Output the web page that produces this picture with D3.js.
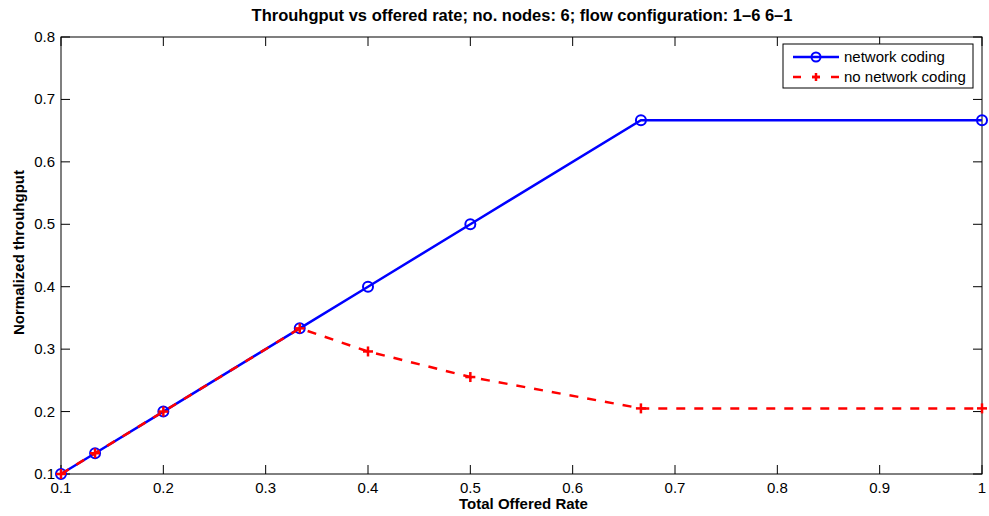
<!DOCTYPE html>
<html><head><meta charset="utf-8">
<script src="https://cdn.jsdelivr.net/npm/d3@7"></script>
<style>body{margin:0;background:#fff;} text{font-family:"Liberation Sans",Arial,sans-serif;}</style>
</head><body>
<svg id="c" width="989" height="516"></svg>
<script>
const offeredRate = [0.1, 0.1333, 0.2, 0.3333, 0.4, 0.5, 0.6667, 1.0];
const withCoding = [0.1, 0.1333, 0.2, 0.3333, 0.4, 0.5, 0.6667, 0.6667];
const withoutCoding = [0.1, 0.1333, 0.2, 0.3333, 0.2963, 0.2553, 0.2051, 0.2051];
const xTicks = [0.1, 0.2, 0.3, 0.4, 0.5, 0.6, 0.7, 0.8, 0.9, 1];
const yTicks = [0.1, 0.2, 0.3, 0.4, 0.5, 0.6, 0.7, 0.8];
const seriesNames = ["network coding", "no network coding"];

const svg = d3.select("#c");
const L = 61, R = 982, T = 37, B = 474;
const x = d3.scaleLinear().domain([0.1, 1]).range([L, R]);
const y = d3.scaleLinear().domain([0.1, 0.8]).range([B, T]);
const fmt = d => (d === 1 ? "1" : d3.format(".1f")(d));

svg.append("rect").attr("x", L).attr("y", T).attr("width", R - L).attr("height", B - T)
  .attr("fill", "#fff").attr("stroke", "#000").attr("stroke-width", 1);

const tl = 9;
const ax = svg.append("g").attr("stroke", "#000").attr("stroke-width", 1);
xTicks.forEach(t => {
  ax.append("line").attr("x1", x(t)).attr("x2", x(t)).attr("y1", B).attr("y2", B - tl);
  ax.append("line").attr("x1", x(t)).attr("x2", x(t)).attr("y1", T).attr("y2", T + tl);
});
yTicks.forEach(t => {
  ax.append("line").attr("x1", L).attr("x2", L + tl).attr("y1", y(t)).attr("y2", y(t));
  ax.append("line").attr("x1", R).attr("x2", R - tl).attr("y1", y(t)).attr("y2", y(t));
});
svg.append("g").selectAll("text").data(xTicks).join("text")
  .attr("x", d => x(d)).attr("y", B + 19).attr("text-anchor", "middle")
  .attr("font-size", 15).text(fmt);
svg.append("g").selectAll("text").data(yTicks).join("text")
  .attr("x", L - 6).attr("y", d => y(d) + 5).attr("text-anchor", "end")
  .attr("font-size", 15).text(fmt);

svg.append("text").attr("x", 522).attr("y", 21).attr("text-anchor", "middle")
  .attr("font-size", 16.5).attr("font-weight", "bold")
  .text("Throuhgput vs offered rate; no. nodes: 6; flow configuration: 1\u20136 6\u20131");
svg.append("text").attr("x", (L + R) / 2 + 2).attr("y", 509).attr("text-anchor", "middle")
  .attr("font-size", 15).attr("font-weight", "bold").text("Total Offered Rate");
svg.append("text").attr("transform", `translate(24,${(T + B) / 2 - 3}) rotate(-90)`)
  .attr("text-anchor", "middle").attr("font-size", 15).attr("font-weight", "bold")
  .text("Normalized throuhgput");

const line = d3.line().x(d => x(d[0])).y(d => y(d[1]));
const d1 = offeredRate.map((v, i) => [v, withCoding[i]]);
const d2 = offeredRate.map((v, i) => [v, withoutCoding[i]]);

svg.append("path").attr("d", line(d1)).attr("fill", "none").attr("stroke", "#0000ff").attr("stroke-width", 2.5);
svg.append("g").selectAll("circle").data(d1).join("circle")
  .attr("cx", d => x(d[0])).attr("cy", d => y(d[1])).attr("r", 5)
  .attr("fill", "none").attr("stroke", "#0000ff").attr("stroke-width", 2);

svg.append("path").attr("d", line(d2)).attr("fill", "none").attr("stroke", "#ff0000")
  .attr("stroke-width", 2.5).attr("stroke-dasharray", "9,9");
const plus = (g, cx, cy, s) => {
  g.append("line").attr("x1", cx - s).attr("x2", cx + s).attr("y1", cy).attr("y2", cy);
  g.append("line").attr("x1", cx).attr("x2", cx).attr("y1", cy - s).attr("y2", cy + s);
};
const pg = svg.append("g").attr("stroke", "#ff0000").attr("stroke-width", 2.5);
d2.forEach(d => plus(pg, x(d[0]), y(d[1]), 5));

const lg = svg.append("g");
lg.append("rect").attr("x", 783).attr("y", 44).attr("width", 190).attr("height", 44)
  .attr("fill", "#fff").attr("stroke", "#000").attr("stroke-width", 1);
const ly1 = 57, ly2 = 77;
lg.append("line").attr("x1", 793).attr("x2", 839).attr("y1", ly1).attr("y2", ly1)
  .attr("stroke", "#0000ff").attr("stroke-width", 2.5);
lg.append("circle").attr("cx", 816).attr("cy", ly1).attr("r", 4.5)
  .attr("fill", "none").attr("stroke", "#0000ff").attr("stroke-width", 2);
lg.append("line").attr("x1", 793).attr("x2", 839).attr("y1", ly2).attr("y2", ly2)
  .attr("stroke", "#ff0000").attr("stroke-width", 2.5).attr("stroke-dasharray", "8,11");
plus(lg.append("g").attr("stroke", "#ff0000").attr("stroke-width", 2.5), 816, ly2, 4);
lg.append("text").attr("x", 844).attr("y", ly1 + 5).attr("font-size", 15).text(seriesNames[0]);
lg.append("text").attr("x", 844).attr("y", ly2 + 5).attr("font-size", 15).text(seriesNames[1]);
</script>
</body></html>
